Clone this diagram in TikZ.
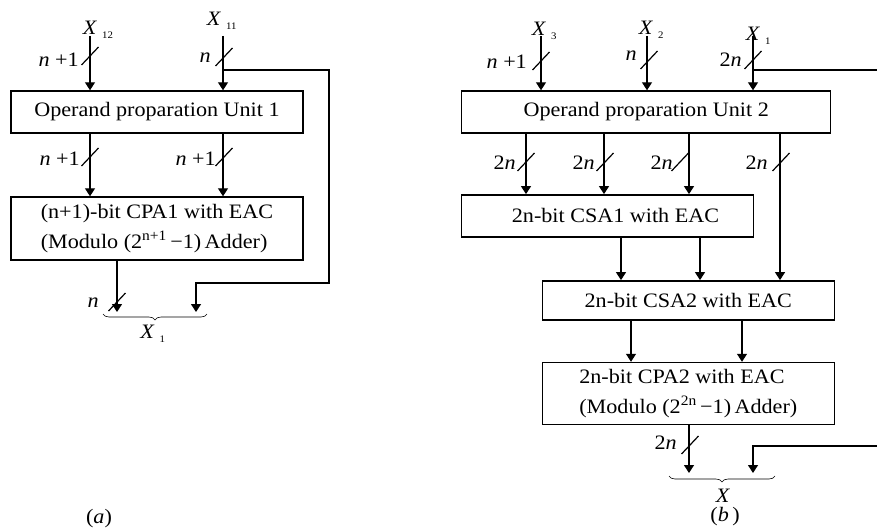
\documentclass[tikz,border=0pt]{standalone}
\usepackage{fontspec}
\setmainfont{Liberation Serif}[FakeStretch=1.08]
\usetikzlibrary{arrows.meta,positioning,decorations.pathreplacing}

\newcommand{\blockfont}{\fontsize{20.5}{30}\selectfont}
\newcommand{\xsub}[1]{\textit{X}\rlap{\kern5pt\smash{\raisebox{-4pt}{\fontsize{10}{10}\selectfont #1}}}}
% bus width tick across a wire
\newcommand{\bus}[1]{\draw[wire] #1 ++(-8.5,9) -- ++(17,-18);}

\begin{document}
\begin{tikzpicture}[x=1pt, y=-1pt,
    unit/.style={rectangle, draw, line width=1.4pt, inner sep=0pt, align=left, font=\blockfont},
    wire/.style={line width=1.2pt},
    sig/.style={wire, -{Triangle[length=8pt,width=10pt]}},
    bw/.style={inner sep=0pt, font=\blockfont},
    brace/.style={decorate, decoration={brace, mirror, amplitude=6pt}, line width=0.6pt}]
    \useasboundingbox (0,0) rectangle (877,527);

    % (a) modulo 2^{n+1}-1 part
    \node[unit, minimum width=292pt, minimum height=42pt] (opuA) at (157,112) {Operand proparation Unit 1};
    \node[unit, minimum width=292pt, minimum height=63pt] (cpaA) at (157,228.5) {(n+1)-bit CPA1 with EAC\\(Modulo (2\textsuperscript{n+1}\,−1)\,Adder)};

    \coordinate (inA12) at (90,36);
    \coordinate (inA11) at (223,36);
    \coordinate (fbA) at (223,70);
    \coordinate (outA) at (117,312);
    \coordinate (retA) at (196,312);

    \node[bw] (xA12) at (90,28) {\xsub{12}};
    \node[bw] (xA11) at (214,19) {\xsub{11}};

    \draw[sig] (inA12) -- (inA12 |- opuA.north);
    \draw[sig] (inA11) -- (inA11 |- opuA.north);
    \draw[sig] (inA12 |- opuA.south) -- (inA12 |- cpaA.north);
    \draw[sig] (inA11 |- opuA.south) -- (inA11 |- cpaA.north);
    \draw[sig] (outA |- cpaA.south) -- (outA);
    \draw[sig] (fbA) -- (329,70) |- (196,283) -- (retA);

    \bus{(90,56)} \bus{(224,57)} \bus{(90,157)} \bus{(224,157)} \bus{(117,302)}
    \node[bw, anchor=east] (wA1) at (79,60) {\textit{n} +1};
    \node[bw, anchor=east] (wA2) at (211,58) {\textit{n}};
    \node[bw, anchor=east] (wA3) at (80,159) {\textit{n} +1};
    \node[bw, anchor=east] (wA4) at (216,159) {\textit{n} +1};
    \node[bw, anchor=east] (wA5) at (99,303) {\textit{n}};

    \draw[brace] (103,314) -- (207,314);
    \node[bw] (xA1) at (147.5,332) {\xsub{1}};
    \node[bw] (capA) at (99,519) {(\textit{a})};

    % (b) modulo 2^{2n}-1 part
    \node[unit, minimum width=369pt, minimum height=42pt] (opuB) at (646.2,112) {Operand proparation Unit 2};
    \node[unit, minimum width=292pt, minimum height=42pt] (csaB1) at (607.5,215.8) {\hspace*{16pt}2n-bit CSA1 with EAC};
    \node[unit, minimum width=292pt, minimum height=39pt] (csaB2) at (688.3,300.3) {2n-bit CSA2 with EAC};
    \node[unit, minimum width=292pt, minimum height=62pt] (cpaB) at (688.3,393.5) {2n-bit CPA2 with EAC\\(Modulo (2\textsuperscript{2n}\,−1)\,Adder)};

    \coordinate (inB3) at (541,36);
    \coordinate (inB2) at (647,36);
    \coordinate (inB1) at (753,36);
    \coordinate (fbB) at (753,70);
    \coordinate (outB) at (689,473);
    \coordinate (retB) at (753,473);

    \node[bw] (xB3) at (539,28.5) {\xsub{3}};
    \node[bw] (xB2) at (646,27.5) {\xsub{2}};
    \node[bw] (xB1) at (753,34) {\xsub{1}};

    \draw[sig] (inB3) -- (inB3 |- opuB.north);
    \draw[sig] (inB2) -- (inB2 |- opuB.north);
    \draw[sig] (inB1) -- (inB1 |- opuB.north);
    \draw[sig] (526,0 |- opuB.south) -- (526,0 |- csaB1.north);
    \draw[sig] (604,0 |- opuB.south) -- (604,0 |- csaB1.north);
    \draw[sig] (689,0 |- opuB.south) -- (689,0 |- csaB1.north);
    \draw[sig] (780,0 |- opuB.south) -- (780,0 |- csaB2.north);
    \draw[sig] (621,0 |- csaB1.south) -- (621,0 |- csaB2.north);
    \draw[sig] (700,0 |- csaB1.south) -- (700,0 |- csaB2.north);
    \draw[sig] (631,0 |- csaB2.south) -- (631,0 |- cpaB.north);
    \draw[sig] (742,0 |- csaB2.south) -- (742,0 |- cpaB.north);
    \draw[sig] (outB |- cpaB.south) -- (outB);
    \draw[sig] (fbB) -- (880,70) |- (753,446) -- (retB);

    \bus{(541,61)} \bus{(649,60)} \bus{(753,60)}
    \bus{(526,162)} \bus{(605,162)} \bus{(680,162)} \bus{(781,162)} \bus{(690,445)}
    \node[bw, anchor=east] (wB1) at (527,62) {\textit{n} +1};
    \node[bw, anchor=east] (wB2) at (637,56) {\textit{n}};
    \node[bw, anchor=east] (wB3) at (742,60) {2\textit{n}};
    \node[bw, anchor=east] (wB4) at (516,163) {2\textit{n}};
    \node[bw, anchor=east] (wB5) at (595,163) {2\textit{n}};
    \node[bw, anchor=east] (wB6) at (673,163) {2\textit{n}};
    \node[bw, anchor=east] (wB7) at (768,163) {2\textit{n}};
    \node[bw, anchor=east] (wB8) at (677,443) {2\textit{n}};

    \draw[brace] (669,476) -- (775,476);
    \node[bw] (xB) at (723,496) {\textit{X}};
    \node[bw] (capB) at (725,517) {(\textit{b}\,)};
\end{tikzpicture}
\end{document}
